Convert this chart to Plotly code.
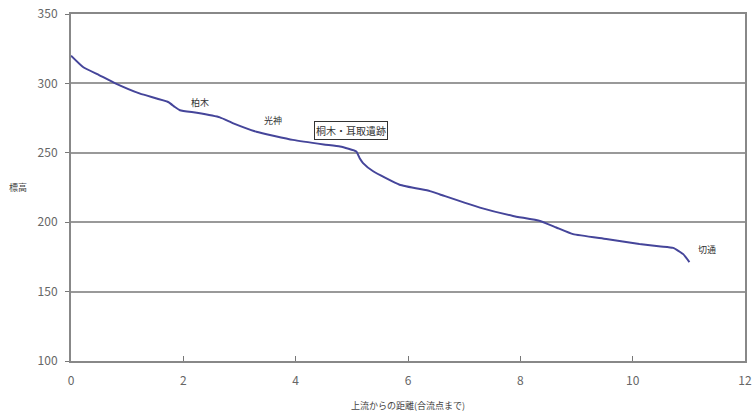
import plotly.graph_objects as go

dist = [0, 0.22, 0.5, 0.78, 1.23, 1.73, 1.85, 1.94, 2.24, 2.65, 2.89, 3.3, 3.95, 4.5, 4.79,
        5.08, 5.14, 5.2, 5.38, 5.85, 6.39, 6.57, 7.28, 7.87, 8.35, 8.64, 8.94, 9.53, 10.12,
        10.5, 10.72, 10.9, 11.01]
elev = [320, 311.6, 306, 300.2, 292.6, 286.6, 283, 280.7, 278.8, 275.5, 271.2, 265.2, 259.3,
        256, 254.5, 250.9, 246, 242.6, 236.7, 227, 222.4, 220, 210.5, 204.5, 200.9, 196.2,
        191.4, 187.9, 184.3, 182.5, 181.5, 177, 171.2]

x_ticks = [0, 2, 4, 6, 8, 10, 12]
y_ticks = [100, 150, 200, 250, 300, 350]

labels = ["柏木", "光神", "桐木・耳取遺跡", "切通"]
label_x = [2.3, 3.6, 4.98, 11.33]
label_y = [286, 273, 266, 180]
label_boxed = [False, False, True, False]

FONT = "Noto Sans CJK JP, sans-serif"

W, H = 755, 418
ML, MR, MT, MB = 71, 10, 14, 57
PW, PH = W - ML - MR, H - MT - MB

fig = go.Figure()
fig.add_trace(go.Scatter(
    x=dist, y=elev, mode="lines",
    line=dict(color="#45459a", width=2, shape="spline", smoothing=0.4),
    hoverinfo="skip", showlegend=False,
))

for t, lx, ly, boxed in zip(labels, label_x, label_y, label_boxed):
    fig.add_annotation(
        x=lx, y=ly, xref="x", yref="y", text=t, showarrow=False,
        font=dict(family=FONT, size=10 if boxed else 9, color="#333333"),
        bgcolor="white" if boxed else None,
        bordercolor="#333333" if boxed else None,
        borderwidth=1 if boxed else 0,
        borderpad=1,
    )

# axis titles as annotations
fig.add_annotation(
    x=-53 / PW, y=0.5, xref="paper", yref="paper", text="標高", showarrow=False,
    font=dict(family=FONT, size=9, color="#444444"), xanchor="center", yanchor="middle",
)
fig.add_annotation(
    x=0.5, y=-44 / PH, xref="paper", yref="paper", text="上流からの距離(合流点まで)",
    showarrow=False, font=dict(family=FONT, size=9, color="#444444"),
    xanchor="center", yanchor="middle",
)

fig.update_layout(
    width=W, height=H,
    margin=dict(l=ML, r=MR, t=MT, b=MB, autoexpand=False),
    paper_bgcolor="white", plot_bgcolor="white",
    xaxis=dict(
        range=[0, 12], tickvals=x_ticks, ticks="inside", ticklen=5, tickcolor="#777777",
        showgrid=False, zeroline=False, showline=True, linecolor="#888888", linewidth=2,
        mirror=True, automargin=False, ticklabeloverflow="allow", ticklabelstandoff=8,
        tickfont=dict(family=FONT, size=12, color="#666666"),
    ),
    yaxis=dict(
        range=[100, 350], tickvals=y_ticks, ticks="outside", ticklen=4, tickcolor="#777777",
        showgrid=True, gridcolor="#999999", gridwidth=2, zeroline=False,
        showline=True, linecolor="#888888", linewidth=2, mirror=True, automargin=False,
        ticklabeloverflow="allow", ticklabelstandoff=5,
        tickfont=dict(family=FONT, size=12, color="#666666"),
    ),
)

fig.write_html(
    "out.html",
    config={"displayModeBar": False, "staticPlot": True},
    post_script="document.body.style.margin='0';document.body.style.overflow='hidden';",
)
